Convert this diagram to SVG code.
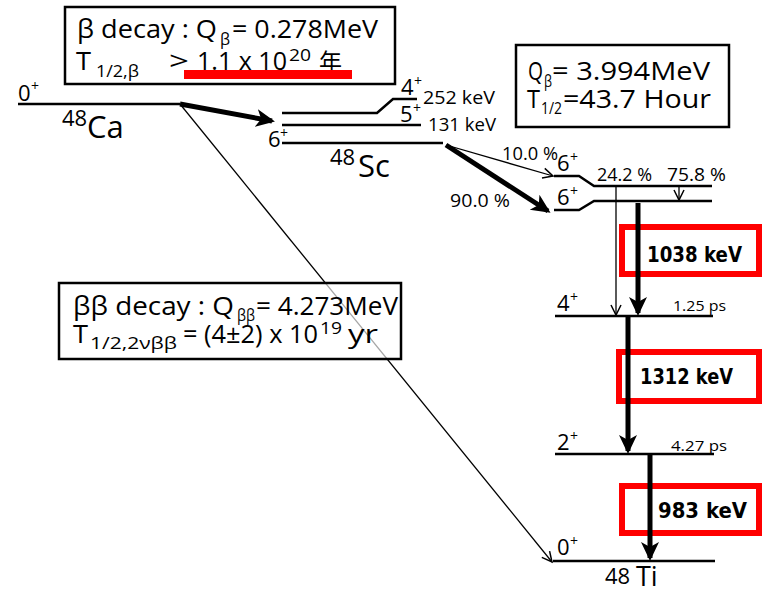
<svg xmlns="http://www.w3.org/2000/svg" width="762" height="594" viewBox="0 0 762 594">
<style>
text{font-family:"Open Sans","DejaVu Sans",sans-serif;fill:#000}
.t{font-size:25px}
.s{font-size:16px}
.l{font-size:22px}
.p{font-size:14px}
.k{font-size:18px}
.ps{font-size:14px}
.b{font-size:21px;font-weight:bold;font-family:"DejaVu Sans","Open Sans",sans-serif}
.lv{stroke:#000;stroke-width:2.5;fill:none}
.box{stroke:#000;stroke-width:2.5;fill:#fff}
.red{stroke:#f00;stroke-width:6;fill:none}
.thick{stroke:#000;stroke-width:5;fill:none}
.thin{stroke:#000;stroke-width:1.3;fill:none}
</style>
<defs>
<marker id="ah" markerUnits="userSpaceOnUse" markerWidth="22" markerHeight="20" refX="16" refY="10" orient="auto" viewBox="0 0 22 20">
<path d="M0,1 L19,10 L0,19 L5,10 z" fill="#000"/>
</marker>
<marker id="av" markerUnits="userSpaceOnUse" markerWidth="14" markerHeight="14" refX="11" refY="6" orient="auto" viewBox="0 0 14 12">
<path d="M1,1 L11,6 L1,11" fill="none" stroke="#000" stroke-width="1.5"/>
</marker>
</defs>

<g id="connectors">
<line class="thin" x1="180" y1="104" x2="552" y2="562" marker-end="url(#av)"/>
<line class="thick" x1="180" y1="104" x2="272" y2="121" marker-end="url(#ah)"/>
<line class="thin" x1="446" y1="145" x2="553" y2="176" marker-end="url(#av)"/>
<line class="thick" x1="446" y1="145" x2="548" y2="211" marker-end="url(#ah)"/>
<line class="thin" x1="679" y1="186" x2="679" y2="200" marker-end="url(#av)"/>
<line class="thin" x1="616" y1="186" x2="616" y2="315" marker-end="url(#av)"/>
</g>

<g id="box-beta">
<rect class="box" x="65" y="7" width="330" height="77"/>
<text class="t" x="77" y="38" textLength="140" lengthAdjust="spacingAndGlyphs">β decay : Q</text>
<text class="s" x="220" y="45">β</text>
<text class="t" x="232" y="38" textLength="146" lengthAdjust="spacingAndGlyphs">= 0.278MeV</text>
<text class="t" x="76" y="70" textLength="15" lengthAdjust="spacingAndGlyphs">T</text>
<text class="s" x="96" y="77" textLength="43" lengthAdjust="spacingAndGlyphs">1/2,β</text>
<text class="t" x="169" y="70" textLength="20" lengthAdjust="spacingAndGlyphs">&gt;</text>
<text class="t" x="197" y="70" textLength="90" lengthAdjust="spacingAndGlyphs">1.1 x 10</text>
<text class="s" x="289" y="61" textLength="22" lengthAdjust="spacingAndGlyphs">20</text>
<text x="319" y="70" style="font-family:'Noto Sans CJK JP','Noto Sans CJK SC',sans-serif;font-size:23px">年</text>
<rect x="184" y="70" width="168" height="9" fill="#f00"/>
</g>

<g id="box-bb">
<rect class="box" x="59" y="283" width="342" height="76" fill-opacity="0.65"/>
<text class="t" x="73" y="315" textLength="161" lengthAdjust="spacingAndGlyphs">ββ decay : Q</text>
<text class="s" x="237" y="321" textLength="18" lengthAdjust="spacingAndGlyphs">ββ</text>
<text class="t" x="256" y="315" textLength="142" lengthAdjust="spacingAndGlyphs">= 4.273MeV</text>
<text class="t" x="73" y="343" textLength="15" lengthAdjust="spacingAndGlyphs">T</text>
<text class="s" x="90" y="349" textLength="87" lengthAdjust="spacingAndGlyphs">1/2,2νββ</text>
<text class="t" x="183" y="343" textLength="135" lengthAdjust="spacingAndGlyphs">= (4±2) x 10</text>
<text class="s" x="320" y="334" textLength="22" lengthAdjust="spacingAndGlyphs">19</text>
<text class="t" x="348" y="343" textLength="30" lengthAdjust="spacingAndGlyphs">yr</text>
</g>

<g id="box-sc">
<rect class="box" x="516" y="45" width="213" height="82"/>
<text class="t" x="528" y="80" textLength="15" lengthAdjust="spacingAndGlyphs">Q</text>
<text class="s" x="544" y="87" textLength="8" lengthAdjust="spacingAndGlyphs">β</text>
<text class="t" x="552" y="80" textLength="158" lengthAdjust="spacingAndGlyphs">= 3.994MeV</text>
<text class="t" x="527" y="108" textLength="13" lengthAdjust="spacingAndGlyphs">T</text>
<text class="s" x="541" y="114" textLength="21" lengthAdjust="spacingAndGlyphs">1/2</text>
<text class="t" x="563" y="108" textLength="148" lengthAdjust="spacingAndGlyphs">=43.7 Hour</text>
</g>

<g id="ca48">
<line class="lv" x1="18" y1="104" x2="180" y2="104"/>
<text class="l" x="18" y="101">0</text><text class="p" x="31" y="91">+</text>
<text class="l" x="62" y="126">48</text>
<text x="87" y="138" style="font-size:31px">Ca</text>
</g>

<g id="sc48">
<polyline class="lv" points="282,113 377,113 393,99 417,99"/>
<text class="l" x="401" y="95">4</text><text class="p" x="414" y="86">+</text>
<text class="k" x="423" y="104" textLength="72" lengthAdjust="spacingAndGlyphs">252 keV</text>
<line class="lv" x1="282" y1="125" x2="421" y2="125"/>
<text class="l" x="400" y="122">5</text><text class="p" x="413" y="113">+</text>
<text class="k" x="428" y="131" textLength="68" lengthAdjust="spacingAndGlyphs">131 keV</text>
<line class="lv" x1="282" y1="143" x2="443" y2="143"/>
<text class="l" x="268" y="147">6</text><text class="p" x="280" y="138">+</text>
<text class="l" x="330" y="165">48</text>
<text x="358" y="177" style="font-size:31px">Sc</text>
<text class="k" x="502" y="160" textLength="56" lengthAdjust="spacingAndGlyphs">10.0 %</text>
<text class="k" x="450" y="207" textLength="60" lengthAdjust="spacingAndGlyphs">90.0 %</text>
</g>

<g id="ti-6plus">
<polyline class="lv" points="554,176 579,176 594,186 712,186"/>
<text class="l" x="557" y="171">6</text><text class="p" x="570" y="162">+</text>
<polyline class="lv" points="554,210 579,210 594,201 712,201"/>
<text class="l" x="557" y="205">6</text><text class="p" x="570" y="196">+</text>
<text class="k" x="597" y="181" textLength="55" lengthAdjust="spacingAndGlyphs">24.2 %</text>
<text class="k" x="667" y="181" textLength="59" lengthAdjust="spacingAndGlyphs">75.8 %</text>
</g>

<g id="gamma-boxes">
<rect class="red" x="622" y="227" width="137" height="47"/>
<text class="b" x="647" y="262" textLength="95" lengthAdjust="spacingAndGlyphs">1038 keV</text>
<rect class="red" x="619" y="352" width="140" height="49"/>
<text class="b" x="640" y="384" textLength="93" lengthAdjust="spacingAndGlyphs">1312 keV</text>
<rect class="red" x="622" y="486" width="137" height="47"/>
<text class="b" x="658" y="518" textLength="89" lengthAdjust="spacingAndGlyphs">983 keV</text>
</g>

<g id="gammas">
<line class="thick" x1="638" y1="203" x2="638" y2="313" marker-end="url(#ah)"/>
<line class="thick" x1="628" y1="316" x2="628" y2="451" marker-end="url(#ah)"/>
<line class="thick" x1="650" y1="455" x2="650" y2="558" marker-end="url(#ah)"/>
</g>

<g id="ti-4plus">
<line class="lv" x1="555" y1="316" x2="713" y2="316"/>
<text class="l" x="557" y="311">4</text><text class="p" x="570" y="302">+</text>
<text class="ps" x="673" y="311" textLength="53" lengthAdjust="spacingAndGlyphs">1.25 ps</text>
</g>

<g id="ti-2plus">
<line class="lv" x1="555" y1="454" x2="714" y2="454"/>
<text class="l" x="557" y="450">2</text><text class="p" x="570" y="441">+</text>
<text class="ps" x="671" y="451" textLength="56" lengthAdjust="spacingAndGlyphs">4.27 ps</text>
</g>

<g id="ti48">
<line class="lv" x1="553" y1="561" x2="715" y2="561"/>
<text class="l" x="605" y="584">48</text>
<text class="l" x="557" y="555">0</text><text class="p" x="570" y="546">+</text>
<text x="636" y="586" style="font-size:27px">Ti</text>
</g>
</svg>
